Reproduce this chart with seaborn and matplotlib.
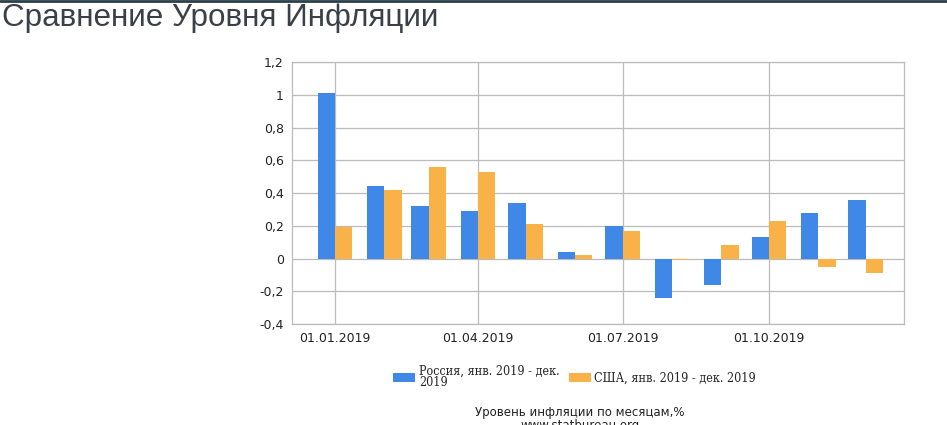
import matplotlib
matplotlib.use("Agg")
import matplotlib.pyplot as plt
from matplotlib import font_manager
import seaborn as sns
import pandas as pd
import numpy as np

# Data
months = ["01.01.2019", "01.02.2019", "01.03.2019", "01.04.2019", "01.05.2019", "01.06.2019",
          "01.07.2019", "01.08.2019", "01.09.2019", "01.10.2019", "01.11.2019", "01.12.2019"]
russia = [1.01, 0.44, 0.32, 0.29, 0.34, 0.04, 0.20, -0.24, -0.16, 0.13, 0.28, 0.36]
usa = [0.19, 0.42, 0.56, 0.53, 0.21, 0.02, 0.17, -0.01, 0.08, 0.23, -0.05, -0.09]
series_names = ["Россия, янв. 2019 - дек.\n2019", "США, янв. 2019 - дек. 2019"]
tick_dates = ["01.01.2019", "01.04.2019", "01.07.2019", "01.10.2019"]
y_ticks = [-0.4, -0.2, 0, 0.2, 0.4, 0.6, 0.8, 1.0, 1.2]
y_tick_labels = ["-0,4", "-0,2", "0", "0,2", "0,4", "0,6", "0,8", "1", "1,2"]

colors = ["#4088E8", "#F9B247"]

start = pd.Timestamp("2019-01-01")
def day(s):
    return (pd.to_datetime(s, format="%d.%m.%Y") - start).days

days = [day(m) for m in months]
df = pd.DataFrame({
    "day": days * 2,
    "value": russia + usa,
    "series": [series_names[0]] * 12 + [series_names[1]] * 12,
})

# legend font: condensed DejaVu Serif if available
cond = [f for f in font_manager.findSystemFonts() if "DejaVuSerifCondensed.ttf" in f]
if cond:
    leg_prop = font_manager.FontProperties(fname=cond[0], size=9.0)
else:
    leg_prop = font_manager.FontProperties(family="Liberation Serif", size=10.5)

sns.set_style("white")
fig = plt.figure(figsize=(9.47, 4.25), dpi=100)
ax = fig.add_axes([292 / 947, 1 - 324 / 425, (904 - 292) / 947, (324 - 62) / 425])

sns.barplot(data=df, x="day", y="value", hue="series", native_scale=True,
            palette=colors, width=0.78, dodge=True, saturation=1, ax=ax,
            errorbar=None, legend=True, linewidth=0)

ax.set_xlim(-27, 358)
ax.set_ylim(-0.4, 1.2)
ax.set_yticks(y_ticks)
ax.set_yticklabels(y_tick_labels, fontsize=9, color="#222222")
ax.set_xticks([day(t) for t in tick_dates])
ax.set_xticklabels(tick_dates, fontsize=9, color="#222222")
ax.set_xlabel("")
ax.set_ylabel("")
ax.grid(True, color="#bbbbbb", linewidth=0.9)
ax.set_axisbelow(True)
for s in ax.spines.values():
    s.set_visible(True)
    s.set_color("#bbbbbb")
    s.set_linewidth(0.9)
ax.tick_params(axis="both", direction="out", length=4, width=0.9, color="#222222", pad=2)

# Legend
handles, labels = ax.get_legend_handles_labels()
ax.get_legend().remove()
leg = fig.legend(handles, labels, loc="upper left", bbox_to_anchor=(382 / 947, 1 - 354 / 425),
                 ncol=2, frameon=False, prop=leg_prop,
                 handlelength=1.75, handleheight=0.75, columnspacing=0.75, handletextpad=0.3,
                 labelspacing=0)
for t in leg.get_texts():
    t.set_linespacing(0.8)

# Title
fig.text(2 / 947, 1 - 18 / 425, "Сравнение Уровня Инфляции", fontsize=22.6,
         family="Liberation Sans", color="#3a4048", va="center", ha="left")

# Bottom captions
fig.text(580 / 947, 1 - 419 / 425, "Уровень инфляции по месяцам,%\nwww.statbureau.org",
         fontsize=8.5, color="#222222", ha="center", va="center",
         multialignment="center", linespacing=0.95)

# Top dark bar
fig.add_artist(plt.Line2D([0, 1], [1 - 1 / 425, 1 - 1 / 425], transform=fig.transFigure,
                          color="#2c3e4a", linewidth=2))

fig.savefig("out.png", dpi=100)
